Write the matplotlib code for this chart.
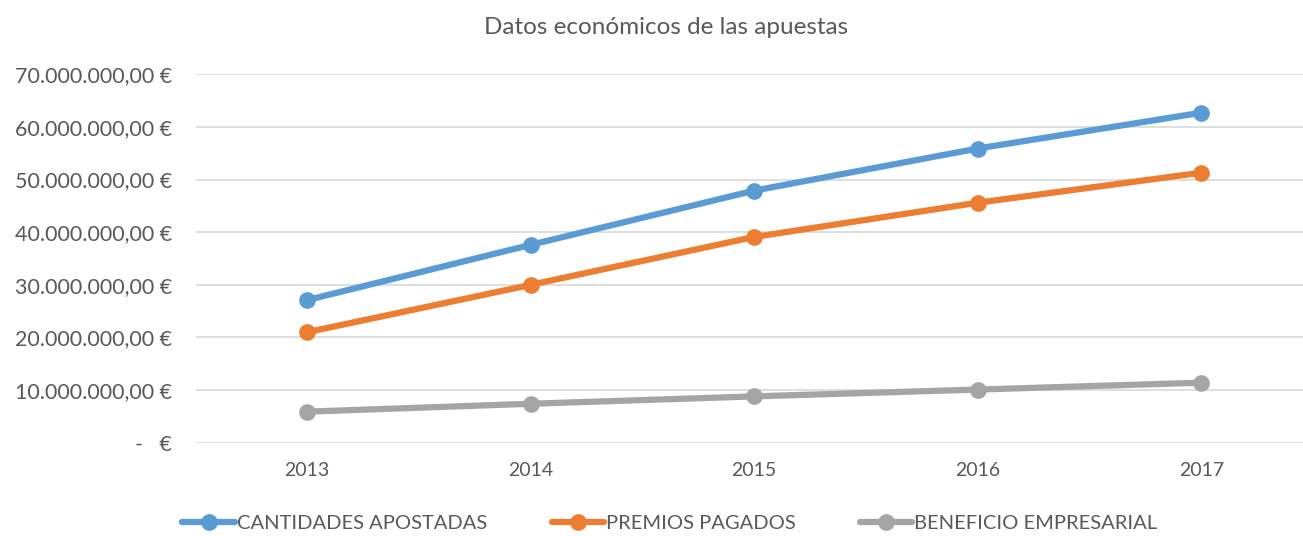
import matplotlib
matplotlib.use("Agg")
import matplotlib.pyplot as plt
from matplotlib.ticker import FuncFormatter

years = ["2013", "2014", "2015", "2016", "2017"]
cantidades = [27.1e6, 37.6e6, 47.9e6, 55.9e6, 62.7e6]
premios = [21.0e6, 30.0e6, 39.1e6, 45.6e6, 51.3e6]
beneficio = [5.9e6, 7.4e6, 8.8e6, 10.1e6, 11.4e6]
series_names = ["CANTIDADES APOSTADAS", "PREMIOS PAGADOS", "BENEFICIO EMPRESARIAL"]
colors = ["#5B9BD5", "#ED7D31", "#A5A5A5"]
yticks = [0, 10e6, 20e6, 30e6, 40e6, 50e6, 60e6, 70e6]

plt.rcParams['font.family'] = ['Lato', 'DejaVu Sans']

fig = plt.figure(figsize=(13.03, 5.36), dpi=100)
W, H = 1303, 536
left, right = 195.5, 1313
top, bottom = 74.3, 442.7
ax = fig.add_axes([left / W, 1 - bottom / H, (right - left) / W, (bottom - top) / H])

x = list(range(len(years)))
for vals, name, c in zip([cantidades, premios, beneficio], series_names, colors):
    ax.plot(x, vals, color=c, lw=4.5, marker='o', ms=11, label=name, solid_capstyle='round', zorder=3)

ax.set_xlim(-0.5, 4.5)
ax.set_ylim(0, 70e6)
ax.set_yticks(yticks)

def fmt(v, pos):
    if v == 0:
        return "-   €"
    s = f"{v:,.2f}".replace(",", "X").replace(".", ",").replace("X", ".")
    return s + " €"

ax.yaxis.set_major_formatter(FuncFormatter(fmt))
ax.set_xticks(x)
ax.set_xticklabels(years)
ax.grid(axis='y', color='#D9D9D9', lw=1.2)
ax.set_axisbelow(True)
for s in ax.spines.values():
    s.set_visible(False)
ax.tick_params(axis='x', length=0, labelsize=14, colors='#595959', pad=14)
ax.tick_params(axis='y', length=0, labelsize=15.5, colors='#595959', pad=17)

fig.text(666 / W, 1 - 27 / H, "Datos económicos de las apuestas", ha='center', va='center',
         fontsize=17.5, color='#595959')

leg = fig.legend(loc='center', bbox_to_anchor=(670 / W, 1 - 523 / H), ncol=3, frameon=False,
                 fontsize=14.5, handlelength=2.6, columnspacing=3.2, handletextpad=0.1)
for t in leg.get_texts():
    t.set_color('#595959')

fig.savefig("out.png", dpi=100)
